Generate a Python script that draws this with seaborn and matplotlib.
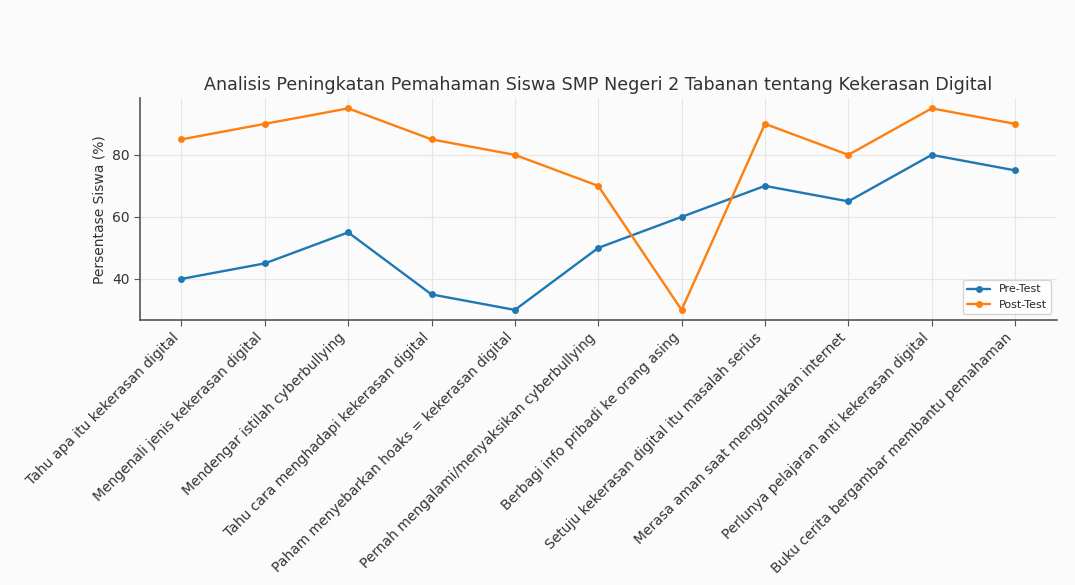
import matplotlib
matplotlib.use("Agg")
import matplotlib.pyplot as plt
import pandas as pd
import seaborn as sns

categories = [
    "Tahu apa itu kekerasan digital",
    "Mengenali jenis kekerasan digital",
    "Mendengar istilah cyberbullying",
    "Tahu cara menghadapi kekerasan digital",
    "Paham menyebarkan hoaks = kekerasan digital",
    "Pernah mengalami/menyaksikan cyberbullying",
    "Berbagi info pribadi ke orang asing",
    "Setuju kekerasan digital itu masalah serius",
    "Merasa aman saat menggunakan internet",
    "Perlunya pelajaran anti kekerasan digital",
    "Buku cerita bergambar membantu pemahaman",
]
pre_test = [40, 45, 55, 35, 30, 50, 60, 70, 65, 80, 75]
post_test = [85, 90, 95, 85, 80, 70, 30, 90, 80, 95, 90]

df = pd.DataFrame({"Pertanyaan": categories, "Pre-Test": pre_test, "Post-Test": post_test})
long_df = df.melt(id_vars="Pertanyaan", var_name="Tes", value_name="Persentase")

sns.set_style("whitegrid")
plt.rcParams["font.family"] = ["DejaVu Sans"]

fig, ax = plt.subplots(figsize=(10.75, 5.85), dpi=100)
fig.patch.set_facecolor("#fbfbfb")
ax.set_facecolor("#fbfbfb")

sns.lineplot(data=long_df, x="Pertanyaan", y="Persentase", hue="Tes", marker="o",
             palette=["#1f77b4", "#ff7f0e"], linewidth=1.7, markersize=5,
             markeredgewidth=0, sort=False, ax=ax)

ax.set_title("Analisis Peningkatan Pemahaman Siswa SMP Negeri 2 Tabanan tentang Kekerasan Digital",
             fontsize=12.6, color="#333333")
ax.set_xlabel("")
ax.set_ylabel("Persentase Siswa (%)", fontsize=10, color="#333333")
ax.set_yticks([40, 60, 80])
plt.setp(ax.get_xticklabels(), rotation=45, ha="right", fontsize=10, color="#333333")
ax.tick_params(axis="y", labelsize=10, colors="#333333")
ax.tick_params(axis="both", length=4, color="#555555", bottom=True, left=True)

ax.grid(True, color="#e6e6e6", linewidth=0.8)
for side in ["top", "right"]:
    ax.spines[side].set_visible(False)
for side in ["left", "bottom"]:
    ax.spines[side].set_color("#555555")
    ax.spines[side].set_linewidth(1.2)

leg = ax.legend(title=None, loc="lower right", fontsize=8, frameon=True)

fig.subplots_adjust(left=0.130, right=0.983, top=0.832, bottom=0.453)
fig.savefig("out.png", dpi=100, facecolor=fig.get_facecolor())
